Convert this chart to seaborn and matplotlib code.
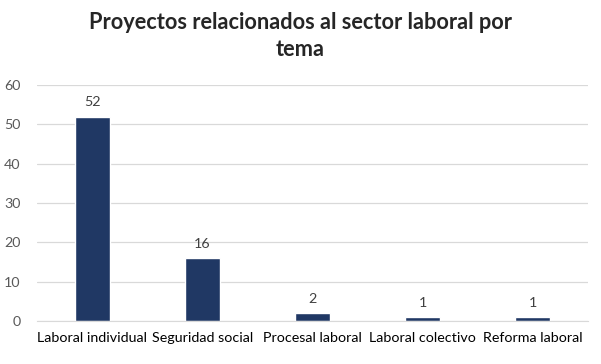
import matplotlib
matplotlib.use('Agg')
import matplotlib.pyplot as plt
import seaborn as sns
import numpy as np
import pandas as pd

CATEGORIES = ['Laboral individual', 'Seguridad social', 'Procesal laboral',
              'Laboral colectivo', 'Reforma laboral']
VALUES = [52, 16, 2, 1, 1]
TITLE = 'Proyectos relacionados al sector laboral por\ntema'

sns.set_style('white')
plt.rcParams['font.family'] = ['Lato', 'DejaVu Sans']

df = pd.DataFrame({'tema': CATEGORIES, 'n': VALUES})

fig = plt.figure(figsize=(6.01, 3.64), dpi=100)
ax = fig.add_axes([0.062, 0.118, 0.916, 0.648])

sns.barplot(data=df, x='tema', y='n', ax=ax, color='#203864',
            width=0.32, saturation=1)

ax.set_ylim(0, 60)
ax.set_yticks(np.arange(0, 61, 10))
ax.set_xlim(-0.5, len(CATEGORIES) - 0.5)
ax.yaxis.grid(True, color='#d9d9d9', linewidth=0.9)
ax.set_axisbelow(True)
for side in ['top', 'right', 'left']:
    ax.spines[side].set_visible(False)
ax.spines['bottom'].set_color('#d9d9d9')

ax.tick_params(axis='y', length=0, labelsize=10.3, labelcolor='#595959', pad=12)
ax.tick_params(axis='x', length=0, labelsize=10.3, labelcolor='#000000', pad=8)
ax.set_xticks(np.arange(-0.5, len(CATEGORIES), 1), minor=True)
ax.tick_params(axis='x', which='minor', length=5, width=0.9, color='#d9d9d9')
ax.set_xlabel('')
ax.set_ylabel('')

ax.bar_label(ax.containers[0], padding=6, fontsize=10.3, color='#404040')

fig.suptitle(TITLE, x=0.5, y=0.968, fontsize=15.7, fontweight='bold',
             linespacing=1.4)

fig.savefig('out.png', dpi=100)
